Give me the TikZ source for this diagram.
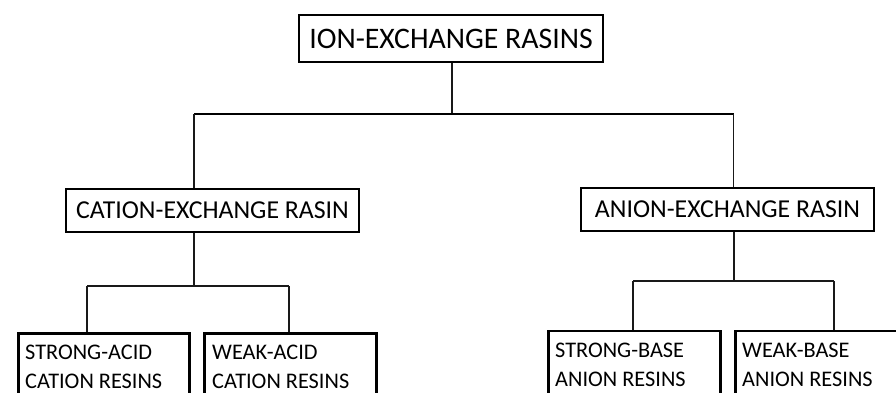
\documentclass[tikz,border=0pt]{standalone}
\usepackage{fontspec}
\setmainfont{Carlito}
\begin{document}
\begin{tikzpicture}[x=1pt,y=-1pt,
  bigbox/.style={draw=black, line width=2.5pt, rectangle, inner sep=0pt},
  btext/.style={inner sep=0pt, align=left, anchor=north west, font=\fontsize{22.3}{28.5}\selectfont},
  conn/.style={draw=black!90, line width=1.5pt},
  hconn/.style={draw=black, line width=2.5pt}]
\useasboundingbox (0,0) rectangle (896,392);
\clip (0,0) rectangle (896,392);
% boxes
\node[bigbox, minimum width=304pt, minimum height=47pt, font=\fontsize{29.8}{34}\selectfont] (top) at (451,38.5) {\raisebox{-1pt}{ION-EXCHANGE RASINS}};
\node[bigbox, minimum width=293pt, minimum height=43pt, font=\fontsize{25.8}{30}\selectfont] (cat) at (212.5,210.5) {\raisebox{-1.5pt}{CATION-EXCHANGE RASIN}};
\node[bigbox, minimum width=293pt, minimum height=43pt, font=\fontsize{25.8}{30}\selectfont] (ani) at (727.5,209.5) {\raisebox{-1.5pt}{ANION-EXCHANGE RASIN}};
\node[bigbox, minimum width=171pt, minimum height=90pt, anchor=north west] (sa) at (17,332) {};
\node[bigbox, minimum width=172pt, minimum height=90pt, anchor=north west] (wa) at (203,332) {};
\node[bigbox, minimum width=172pt, minimum height=90pt, anchor=north west] (sb) at (547,329.5) {};
\node[bigbox, minimum width=200pt, minimum height=90pt, anchor=north west] (wb) at (734,329.5) {};
% texts in lower boxes
\node[btext] (sat) at ([shift={(8,13)}]sa.north west) {STRONG-ACID\\CATION RESINS};
\node[btext] (wat) at ([shift={(9,13)}]wa.north west) {WEAK-ACID\\CATION RESINS};
\node[btext] (sbt) at ([shift={(8,13.5)}]sb.north west) {STRONG-BASE\\ANION RESINS};
\node[btext] (wbt) at ([shift={(8,13.5)}]wb.north west) {WEAK-BASE\\ANION RESINS};
% junction coordinates
\coordinate (j0) at (452,114);
\coordinate (jl) at (194,114);
\coordinate (jr) at (733.5,114);
\coordinate (c1) at (194,286);
\coordinate (c1l) at (87,286);
\coordinate (c1r) at (289,286);
\coordinate (a1) at (734,281);
\coordinate (a1l) at (633,281);
\coordinate (a1r) at (834,281);
% connectors
\draw[conn] (top.south -| j0) -- (j0);
\draw[hconn] (jl) -- (jr);
\draw[conn] (jl) -- (jl |- cat.north);
\draw[conn] (jr) -- (jr |- ani.north);
\draw[conn] (c1 |- cat.south) -- (c1);
\draw[conn] (c1l) -- (c1r);
\draw[conn] (c1l) -- (c1l |- sa.north);
\draw[conn] (c1r) -- (c1r |- wa.north);
\draw[conn] (a1 |- ani.south) -- (a1);
\draw[conn] (a1l) -- (a1r);
\draw[conn] (a1l) -- (a1l |- sb.north);
\draw[conn] (a1r) -- (a1r |- wb.north);
\end{tikzpicture}
\end{document}
